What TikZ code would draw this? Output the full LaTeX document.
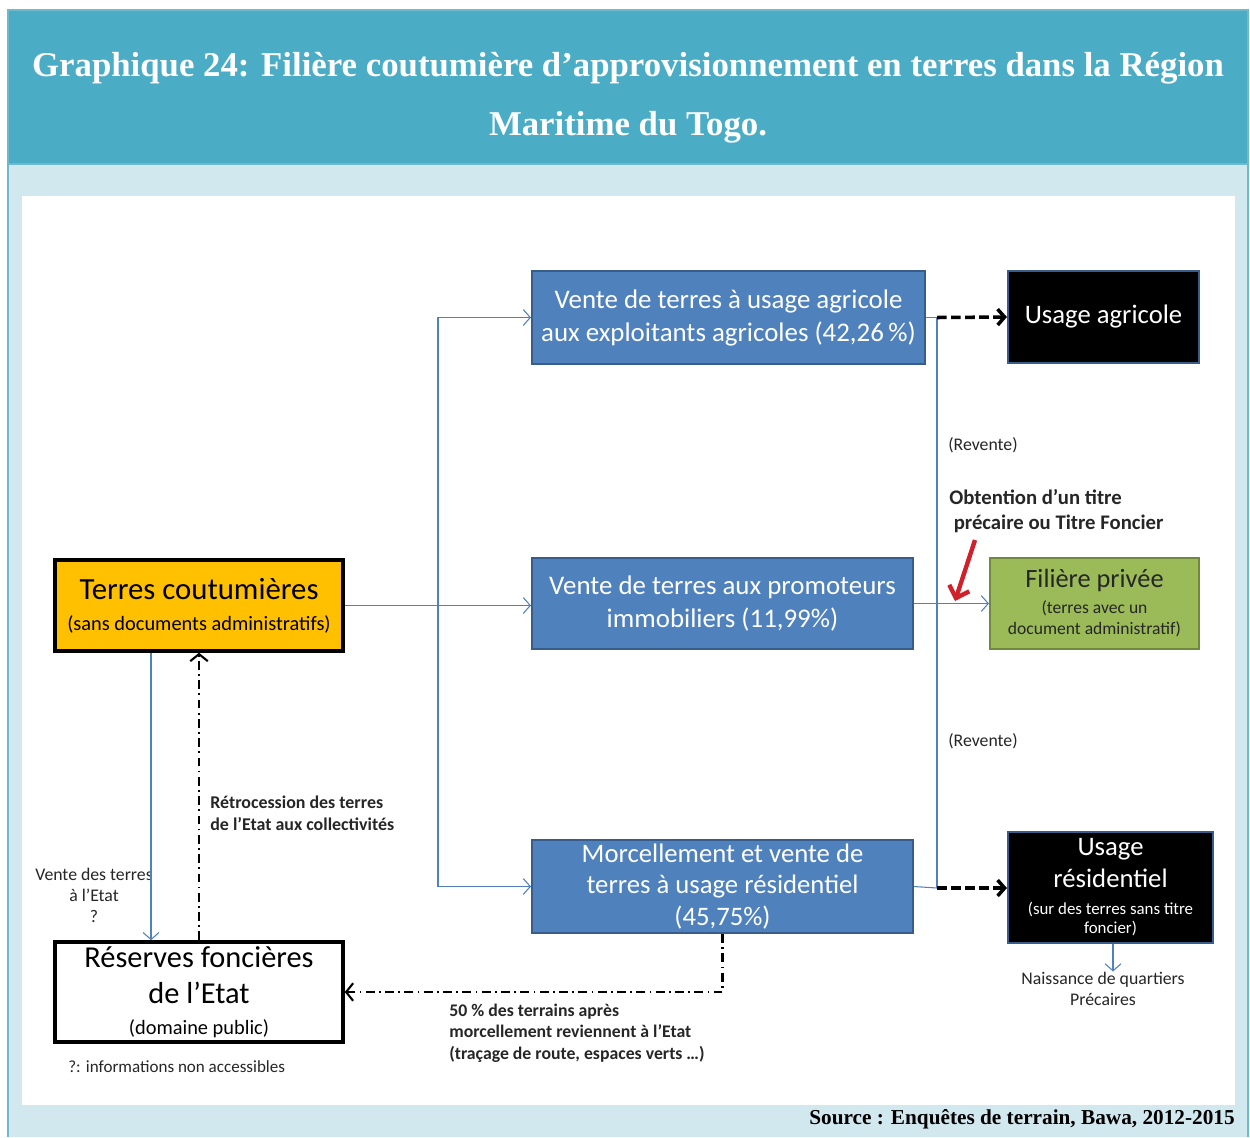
\documentclass[tikz,border=0pt]{standalone}
\usepackage{fontspec}
\setmainfont{Carlito}
\newfontfamily\titlefont{Liberation Serif}
\usetikzlibrary{positioning, arrows.meta}
\definecolor{titleblue}{HTML}{4BACC6}
\definecolor{paleblue}{HTML}{D2E8EF}
\definecolor{frameblue}{HTML}{6CB9D0}
\definecolor{boxblue}{HTML}{4F81BD}
\definecolor{boxedge}{HTML}{385D8A}
\definecolor{mygreen}{HTML}{9BBB59}
\definecolor{greenedge}{HTML}{71893F}
\definecolor{myorange}{HTML}{FFC000}
\definecolor{myred}{HTML}{D0202A}
\newcommand{\smalltext}[1]{\fontsize{#1}{#1}\selectfont}
\tikzset{
	defaultnode/.style={
			rectangle,
			draw=boxedge,
			line width=1.2pt,
			align=center,
			inner sep=0pt
		},
	bluenode/.style={
			defaultnode,
			fill=boxblue,
			text=white,
			font=\fontsize{15.3}{18.8}\selectfont
		},
	blacknode/.style={
			defaultnode,
			fill=black,
			text=white,
			font=\fontsize{15.2}{18.2}\selectfont
		},
	greennode/.style={
			defaultnode,
			fill=mygreen,
			draw=greenedge,
			text=black!85,
			font=\fontsize{15}{14.8}\selectfont
		},
	orangenode/.style={
			defaultnode,
			fill=myorange,
			draw=black,
			line width=2pt,
			font=\fontsize{17.5}{17.6}\selectfont
		},
	whitenode/.style={
			defaultnode,
			fill=white,
			draw=black,
			line width=2pt,
			font=\fontsize{17.3}{20.5}\selectfont
		},
	labelnode/.style={
			align=left,
			inner sep=0pt,
			text=black!85,
			font=\fontsize{10.1}{12}\selectfont
		},
	boldlabel/.style={
			labelnode,
			font=\fontsize{10.2}{12.5}\selectfont\bfseries
		},
	bluearrow/.style={
			draw=boxblue,
			line width=0.6pt,
			-{Straight Barb[length=4pt,width=9pt]}
		},
	blueline/.style={
			draw=boxblue,
			line width=0.6pt
		},
	dasharrow/.style={
			draw=black,
			line width=2pt,
			dash pattern=on 5.5pt off 2.5pt,
			-{Straight Barb[length=4pt,width=9pt,line width=2pt]}
		},
	dotarrow/.style={
			draw=black,
			line width=1.5pt,
			dash pattern=on 5pt off 2.5pt on 1pt off 2.5pt,
			-{Straight Barb[length=4pt,width=10pt,line width=1.2pt]}
		}
}

\begin{document}
\begin{tikzpicture}[x=0.02cm, y=-0.02cm]
\useasboundingbox (0,0) rectangle (1250,1137);
% frame and title band
\fill[white] (0,0) rectangle (1250,1137);
\fill[paleblue] (8,10) rectangle (1248,1137);
\fill[titleblue] (8,10) rectangle (1248,163);
\draw[frameblue, line width=1.5pt] (8,1137) -- (8,10) -- (1248,10) -- (1248,1137);
\draw[frameblue, line width=1.5pt] (8,164) -- (1248,164);
\fill[white] (22,196) rectangle (1235,1105);

\node[text=white, align=center, font=\titlefont\bfseries\fontsize{19.8}{33.5}\selectfont] (title) at (628,97.5)
  {Graphique 24: Filière coutumière d’approvisionnement en terres dans la Région\\Maritime du Togo.};
\node[anchor=east, inner sep=0pt, font=\titlefont\bfseries\fontsize{12.1}{14}\selectfont] (src) at (1235,1119)
  {Source : Enquêtes de terrain, Bawa, 2012-2015};

% boxes
\node[orangenode, minimum width=5.76cm, minimum height=1.82cm] (n1) at (199,605.5)
  {Terres coutumières\\\smalltext{11.6}(sans documents administratifs)};
\node[bluenode, minimum width=7.86cm, minimum height=1.86cm] (n2) at (728.5,317.5)
  {Vente de terres à usage agricole\\aux exploitants agricoles (42,26\,\%)};
\node[bluenode, minimum width=7.62cm, minimum height=1.82cm] (n3) at (722.5,603.5)
  {Vente de terres aux promoteurs\\immobiliers (11,99\%)};
\node[bluenode, minimum width=7.62cm, minimum height=1.86cm, font=\fontsize{15.2}{18}\selectfont] (n4) at (722.5,886.5)
  {Morcellement et vente de\\terres à usage résidentiel\\(45,75\%)};
\node[blacknode, minimum width=3.82cm, minimum height=1.84cm] (n5) at (1103.5,317)
  {Usage agricole};
\node[greennode, minimum width=4.18cm, minimum height=1.82cm] (n6) at (1094.5,603.5)
  {Filière privée\\\smalltext{10}(terres avec un\\[-2.8pt]\smalltext{10}document administratif)};
\node[blacknode, minimum width=4.10cm, minimum height=2.22cm] (n7) at (1110.5,887.5)
  {Usage\\résidentiel\\[-2.8pt]\smalltext{9.6}(sur des terres sans titre\\[-7.4pt]\smalltext{9.6}foncier)};
\node[whitenode, minimum width=5.76cm, minimum height=2.0cm] (n8) at (199,992)
  {Réserves foncières\\de l’Etat\\[-2.9pt]\smalltext{11.6}(domaine public)};

% labels
\node[labelnode, anchor=west] (l1) at (948,445) {(Revente)};
\node[labelnode, anchor=west] (l2) at (948,741) {(Revente)};
\node[boldlabel, anchor=north west, font=\fontsize{11.8}{13.7}\selectfont\bfseries] (l3) at (949,489.5)
  {Obtention d’un titre\\\hspace{2.5pt}précaire ou Titre Foncier};
\node[labelnode, anchor=north, align=center] (l4) at (94,867.5) {Vente des terres\\à l’Etat\\?};
\node[boldlabel, anchor=north west] (l5) at (210,795.5) {Rétrocession des terres\\de l’Etat aux collectivités};
\node[boldlabel, anchor=north west, font=\fontsize{10.1}{12.2}\selectfont\bfseries] (l6) at (449,1003.5)
  {50 \% des terrains après\\morcellement reviennent à l’Etat\\(traçage de route, espaces verts …)};
\node[labelnode, anchor=north, align=center] (l7) at (1103,971.5) {Naissance de quartiers\\Précaires};
\node[labelnode, anchor=west, font=\fontsize{9.7}{12}\selectfont] (l8) at (68,1067) {?: informations non accessibles};

% connectors
\coordinate (s1) at (438,605.5);
\coordinate (s2) at (937,317.5);
\coordinate (s3) at (937,888);
\draw[bluearrow] (n1.east) -- (n1.east -| n3.west);
\draw[bluearrow] (s1) |- (n2.west);
\draw[bluearrow] (s1) |- (n4.west);
\draw[blueline] (n2.east) -- (s2);
\draw[blueline] (n4.east) -- (s3);
\draw[blueline] (s2) -- (s3);
\draw[dasharrow] (s2) -- (n5.west);
\draw[dasharrow] (s3) -- (n5.west |- s3);
\draw[bluearrow] (n3.east) -- (n6.west);
\draw[bluearrow] ([xshift=-0.96cm]n1.south) -- ([xshift=-0.96cm]n8.north);
\draw[dotarrow] (n8.north) -- (n1.south);
\draw[dotarrow] (n4.south) |- (n8.east);
\draw[bluearrow] ([xshift=0.05cm]n7.south) -- ([xshift=0.05cm]n7.south |- l7.north);

% red arrow
\coordinate (r1) at (975,540);
\coordinate (r2) at (955,601);
\draw[myred, line width=2.5pt, -{Straight Barb[length=6pt,width=12pt,line width=2.5pt]}] (r1) -- (r2);
\end{tikzpicture}
\end{document}
